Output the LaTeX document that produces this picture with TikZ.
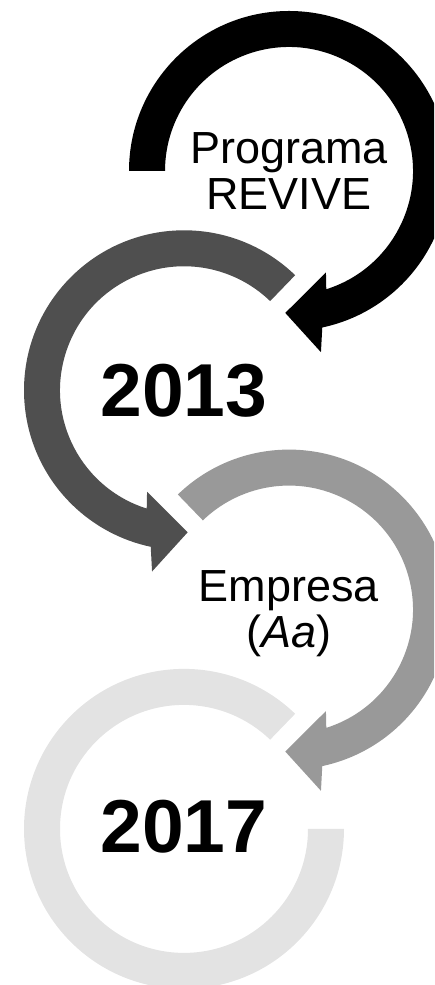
\documentclass[tikz,border=0pt]{standalone}
\usepackage{fontspec}
\setmainfont{Liberation Sans}
\usetikzlibrary{positioning}
\definecolor{darkring}{HTML}{4F4F4F}
\definecolor{midring}{HTML}{999999}
\definecolor{lightring}{HTML}{E3E3E3}

\begin{document}
\begin{tikzpicture}[x=1pt,y=1pt,
 cw arrow/.pic={\fill (#1:160) arc[start angle=#1,end angle=-78,radius=160] -- (-80:184) -- (-91.5:142) -- (-70:108) -- (-72.5:124) arc[start angle=-72.5,end angle=#1,radius=124] -- cycle;},
 open ring/.pic={\fill (46:160) arc[start angle=46,end angle=360,radius=160] -- (0:124) arc[start angle=360,end angle=46,radius=124] -- cycle;},
 plain text/.style={align=center,inner sep=0pt,font=\fontsize{45}{46}\selectfont},
 year text/.style={inner sep=0pt,font=\fontsize{75}{75}\selectfont\bfseries},
]
\useasboundingbox (0,0) rectangle (434,985);
\clip (0,0) rectangle (434,985);

\coordinate (c1) at (289,814);
\coordinate (c2) at (184,594.7);
\coordinate (c3) at (289,375.4);
\coordinate (c4) at (184,156.1);

% rings
\pic[color=lightring] at (c4) {open ring};
\pic[color=midring] at (c3) {cw arrow=134};
\pic[color=darkring,xscale=-1] at (c2) {cw arrow=134};
\pic[color=black] at (c1) {cw arrow=180};

% texts
\node (t1)[plain text] at (c1) {Programa\\REVIVE};
\node (t2)[year text] at (c2) {2013};
\node (t3)[plain text,yshift=-4.5] at (c3) {Empresa\\(\textit{Aa})};
\node (t4)[year text,yshift=2] at (c4) {2017};
\end{tikzpicture}
\end{document}
